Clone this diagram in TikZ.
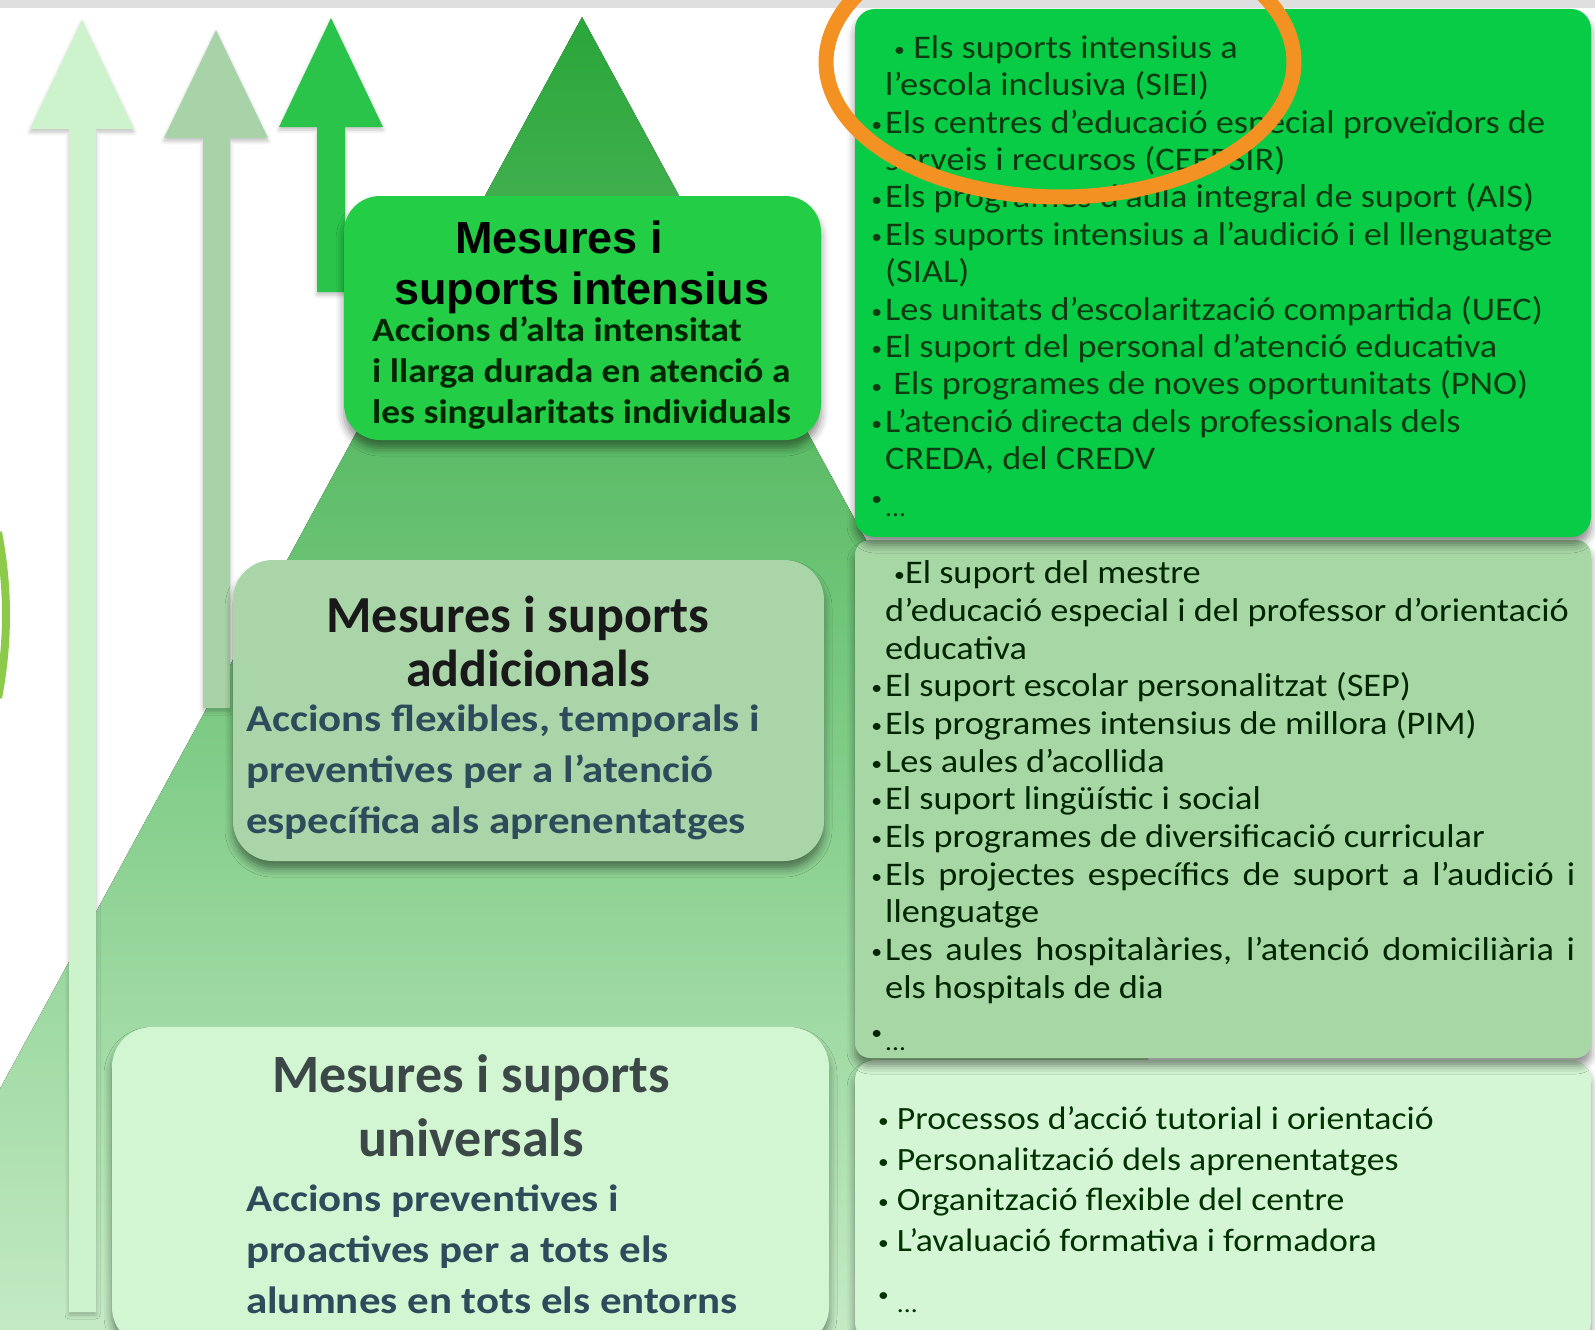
\documentclass[tikz,border=0pt]{standalone}
\usepackage{graphicx}
\usepackage{fontspec}
\setmainfont{Carlito}
\newfontfamily\headfont{Liberation Sans}
\newfontfamily\listfont[FakeStretch=1.1, Ligatures=TeX]{Carlito}
\newfontfamily\bodyfont[FakeStretch=1.13, Ligatures=TeX]{Carlito}
\usetikzlibrary{positioning, shadows.blur}

\definecolor{intgreen}{HTML}{24CD46}
\definecolor{topgreen}{HTML}{08CB46}
\definecolor{addgreen}{HTML}{A9D5A9}
\definecolor{midgreen}{HTML}{A8D7A6}
\definecolor{unimint}{HTML}{D2F6D2}
\definecolor{lowmint}{HTML}{D5F6D5}
\definecolor{pyrtop}{HTML}{2AA63A}
\definecolor{pyrbot}{HTML}{C4EAC4}
\definecolor{arrowA}{HTML}{CDF3CD}
\definecolor{arrowB}{HTML}{A8D2A8}
\definecolor{arrowC}{HTML}{2AC44A}
\definecolor{slate}{HTML}{2D4B5A}
\definecolor{darkleaf}{HTML}{0D3B12}
\definecolor{darkgrey}{HTML}{3C4848}
\definecolor{leafarc}{HTML}{8CCB4A}
\definecolor{circleorange}{HTML}{F39222}

\newcommand{\dotb}{\raisebox{0.12ex}{\scalebox{0.6}{•}}}
\newcommand{\bul}{\llap{\dotb\hspace{3pt}}}
\newcommand{\etc}{\raisebox{-9pt}{\fontsize{25}{25}\selectfont ...}}

\begin{document}
\begin{tikzpicture}[x=1pt, y=-1pt,
  box/.style={rounded corners=36, inner sep=0, blur shadow={shadow xshift=0pt, shadow yshift=-8pt, shadow blur radius=8pt, shadow opacity=45}},
  listbox/.style={box, rounded corners=20, minimum width=736},
  title/.style={align=center, inner sep=0, anchor=north},
  body/.style={align=left, inner sep=0, anchor=north west},
  shaft/.style={blur shadow={shadow xshift=0pt, shadow yshift=-3pt, shadow blur radius=4pt, shadow opacity=25}}]
\useasboundingbox (0,0) rectangle (1595,1330);
\clip (0,0) rectangle (1595,1330);

% background
\fill[gray!25] (0,0) rectangle (1595,8);
\fill[top color=pyrtop, bottom color=pyrbot] (582,17) -- (-131,1330) -- (1295,1330) -- cycle;
\draw[leafarc, line width=8] plot[domain=-11:11, samples=20] ({-429+435*cos(\x)},{615+435*sin(\x)});

% arrows
\fill[arrowB, shaft] (203,708) -- (203,138) -- (164,138) -- (216,30) -- (268,138) -- (230,138) -- (230,708) -- cycle;
\fill[arrowC, shaft] (317,292) -- (317,127) -- (279,127) -- (331,18) -- (383,127) -- (345,127) -- (345,292) -- cycle;
\fill[arrowA, shaft] (69,1312) -- (69,129) -- (30,129) -- (82,20) -- (134,129) -- (96,129) -- (96,1312) -- cycle;

% pyramid boxes
\node[box, fill=intgreen, minimum width=477, minimum height=244] (intens) at (582.5,318) {};
\node[box, fill=addgreen, rounded corners=40, minimum width=591, minimum height=301] (addic) at (528.5,710.5) {};
\node[box, fill=unimint, rounded corners=40, minimum width=717, minimum height=320] (univ) at (470.5,1187) {};

\node[title, font=\headfont\bfseries\fontsize{45}{51}\selectfont] (intensT) at (582,218) {\strut Mesures i\hspace*{46pt}\\suports intensius};
\node[body, font=\listfont\bfseries\fontsize{34}{41}\selectfont, text=black!85!green] (intensB) at (372,313) {\strut Accions d'alta intensitat\\i llarga durada en atenció a\\les singularitats individuals};

\node[title, font=\bfseries\fontsize{52}{54}\selectfont, text=black!90] (addicT) at (528,594) {\strut Mesures i suports\hspace*{20pt}\\addicionals};
\node[body, font=\bodyfont\bfseries\fontsize{38}{51}\selectfont, text=slate] (addicB) at (246,696) {\strut Accions flexibles, temporals i\\preventives per a l'atenció\\específica als aprenentatges};

\node[title, font=\bfseries\fontsize{54}{64}\selectfont, text=darkgrey] (univT) at (471,1047) {\strut Mesures i suports\\universals};
\node[body, font=\bodyfont\bfseries\fontsize{38}{51}\selectfont, text=slate] (univB) at (246,1176) {\strut Accions preventives i\\proactives per a tots els\\alumnes en tots els entorns};

% list boxes
\node[listbox, fill=lowmint, minimum height=282] (listU) at (1223,1201) {};
\node[listbox, fill=midgreen, rounded corners=15, minimum height=518] (listA) at (1223,799) {};
\node[listbox, fill=topgreen, minimum height=528] (listI) at (1223,273) {};

\node[body, font=\listfont\fontsize{33}{37.4}\selectfont, text=darkleaf] (listIT) at (885,32) {\strut\hspace*{9pt}\dotb\ Els suports intensius a\\
l'escola inclusiva (SIEI)\\
\bul Els centres d'educació especial proveïdors de\\
serveis i recursos (CEEPSIR)\\
\bul Els programes d'aula integral de suport (AIS)\\
\bul Els suports intensius a l'audició i el llenguatge\\
(SIAL)\\
\bul Les unitats d'escolarització compartida (UEC)\\
\bul El suport del personal d'atenció educativa\\
\bul\ Els programes de noves oportunitats (PNO)\\
\bul L'atenció directa dels professionals dels\\
CREDA, del CREDV\\
\bul\etc};

\node[body, font=\listfont\fontsize{33}{37.7}\selectfont, text=black!85!green] (listAT) at (885,557) {\strut\hspace*{9pt}\dotb El suport del mestre\\
d'educació especial i del professor d'orientació\\
educativa\\
\bul El suport escolar personalitzat (SEP)\\
\bul Els programes intensius de millora (PIM)\\
\bul Les aules d'acollida\\
\bul El suport lingüístic i social\\
\bul Els programes de diversificació curricular\\
\bul\makebox[690pt][s]{Els projectes específics de suport a l'audició i}\\
llenguatge\\
\bul\makebox[690pt][s]{Les aules hospitalàries, l'atenció domiciliària i}\\
els hospitals de dia\\[5pt]
\bul\etc};

\node[body, font=\listfont\fontsize{32.5}{40.5}\selectfont, text=black!80!green] (listUT) at (878,1101) {\strut\dotb\ Processos d'acció tutorial i orientació\\
\dotb\ Personalització dels aprenentatges\\
\dotb\ Organització flexible del centre\\
\dotb\ L'avaluació formativa i formadora\\[12pt]
\dotb\ \etc};

% highlight
\draw[circleorange, line width=15, line cap=round] plot[domain=119:485, samples=100, smooth] ({1060+234*cos(\x)},{62+135*sin(\x)});
\end{tikzpicture}
\end{document}
